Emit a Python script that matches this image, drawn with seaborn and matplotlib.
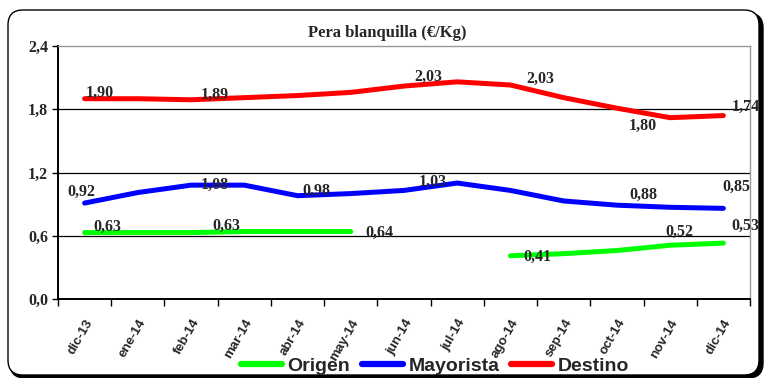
import matplotlib.pyplot as plt
import pandas as pd
import seaborn as sns
import numpy as np
from matplotlib.patches import FancyBboxPatch
from matplotlib.lines import Line2D
from matplotlib.transforms import IdentityTransform

# Datos (€/Kg)
meses = ['dic-13', 'ene-14', 'feb-14', 'mar-14', 'abr-14', 'may-14', 'jun-14',
         'jul-14', 'ago-14', 'sep-14', 'oct-14', 'nov-14', 'dic-14']
origen = [0.63, 0.63, 0.63, 0.64, 0.64, 0.64, np.nan, np.nan, 0.41, 0.43, 0.46, 0.51, 0.53]
mayorista = [0.91, 1.01, 1.08, 1.08, 0.98, 1.00, 1.03, 1.10, 1.03, 0.93, 0.89, 0.87, 0.86]
destino = [1.90, 1.90, 1.89, 1.91, 1.93, 1.96, 2.02, 2.06, 2.03, 1.91, 1.81, 1.72, 1.74]

series = ['Origen', 'Mayorista', 'Destino']
cores = {'Origen': '#00FF00', 'Mayorista': '#0000FF', 'Destino': '#FF0000'}

# etiquetas de datos: (serie, texto, x, y)
etiquetas = [
    ('Destino', '1,90', 0.29, 1.96), ('Destino', '1,89', 2.45, 1.94),
    ('Destino', '2,03', 6.45, 2.11), ('Destino', '2,03', 8.56, 2.09),
    ('Destino', '1,80', 10.49, 1.64), ('Destino', '1,74', 12.42, 1.82),
    ('Mayorista', '0,92', -0.07, 1.02), ('Mayorista', '1,08', 2.45, 1.08),
    ('Mayorista', '0,98', 4.35, 1.03), ('Mayorista', '1,03', 6.54, 1.11),
    ('Mayorista', '0,88', 10.49, 0.99), ('Mayorista', '0,85', 12.24, 1.06),
    ('Origen', '0,63', 0.42, 0.68), ('Origen', '0,63', 2.66, 0.69),
    ('Origen', '0,64', 5.53, 0.63), ('Origen', '0,41', 8.50, 0.40),
    ('Origen', '0,52', 11.17, 0.64), ('Origen', '0,53', 12.42, 0.69),
]

# ------------------------------------------------------------------
# tabla larga, cortando tramos donde falta dato
filas = []
for nombre, valores in zip(series, [origen, mayorista, destino]):
    tramo = 0
    for i, v in enumerate(valores):
        if np.isnan(v):
            tramo += 1
            continue
        filas.append({'serie': nombre, 'mes': meses[i], 'valor': v, 'tramo': tramo})
df = pd.DataFrame(filas)
df['pos'] = df['mes'].map({m: i for i, m in enumerate(meses)})

sns.set_style('white')
plt.rcParams['font.family'] = ['Liberation Serif', 'DejaVu Serif']

fig = plt.figure(figsize=(7.74, 3.78), dpi=100)

# marco redondeado con sombra
fig.add_artist(FancyBboxPatch((10, 0), 753, 365, boxstyle='round,pad=0,rounding_size=15',
                              transform=IdentityTransform(), facecolor='black',
                              edgecolor='black', lw=1, zorder=0))
fig.add_artist(FancyBboxPatch((8, 3), 751, 365, boxstyle='round,pad=0,rounding_size=15',
                              transform=IdentityTransform(), facecolor='white',
                              edgecolor='black', lw=1, zorder=0))

ax = fig.add_axes([58 / 774, 1 - 299 / 378, 692 / 774, 253 / 378])
ax.set_facecolor('none')

sns.lineplot(data=df, x='pos', y='valor', hue='serie', units='tramo', estimator=None,
             palette=cores, linewidth=3.6, legend=False, ax=ax, zorder=3)

for serie, txt, x, y in etiquetas:
    ax.text(x, y, txt, ha='center', va='center', fontsize=11.5, fontweight='bold', zorder=4)

ax.set_xlim(-0.5, 12.5)
ax.set_ylim(0, 2.4)
yt = [0.0, 0.6, 1.2, 1.8, 2.4]
ax.set_yticks(yt)
ax.set_yticklabels([f'{v:.1f}'.replace('.', ',') for v in yt], fontsize=11.5, fontweight='bold')
ax.tick_params(axis='y', length=4, width=1, color='black', pad=3, left=True)

ax.set_xticks(range(len(meses)))
ax.set_xticklabels(meses, rotation=60, ha='right', rotation_mode='anchor',
                   family='Liberation Sans', fontsize=9.5, fontweight='bold')
ax.set_xticks(np.arange(-0.5, len(meses)), minor=True)
ax.tick_params(axis='x', which='major', length=0, pad=13)
ax.tick_params(axis='x', which='minor', length=5, width=1, color='black', bottom=True)

ax.grid(axis='y', color='black', linewidth=0.9)
ax.get_ygridlines()[-1].set_visible(False)
ax.set_axisbelow(True)
for s in ['top', 'right']:
    ax.spines[s].set_color('#999999')
    ax.spines[s].set_linewidth(1)
for s in ['left', 'bottom']:
    ax.spines[s].set_color('black')
    ax.spines[s].set_linewidth(1.4)
ax.set_xlabel('')
ax.set_ylabel('')

fig.text(0.5, 1 - 33 / 378, 'Pera blanquilla (€/Kg)', ha='center', va='center',
         fontsize=12, fontweight='bold')

handles = [Line2D([], [], color=cores[s], lw=4.5) for s in series]
fig.legend(handles, series, loc='center', bbox_to_anchor=(0.562, 0.032), ncol=3,
           frameon=False, handlelength=2.1, handletextpad=0.3, columnspacing=0.6,
           borderpad=0.1, prop={'family': 'Liberation Sans', 'weight': 'bold', 'size': 14})

fig.savefig('out.png', dpi=100)
